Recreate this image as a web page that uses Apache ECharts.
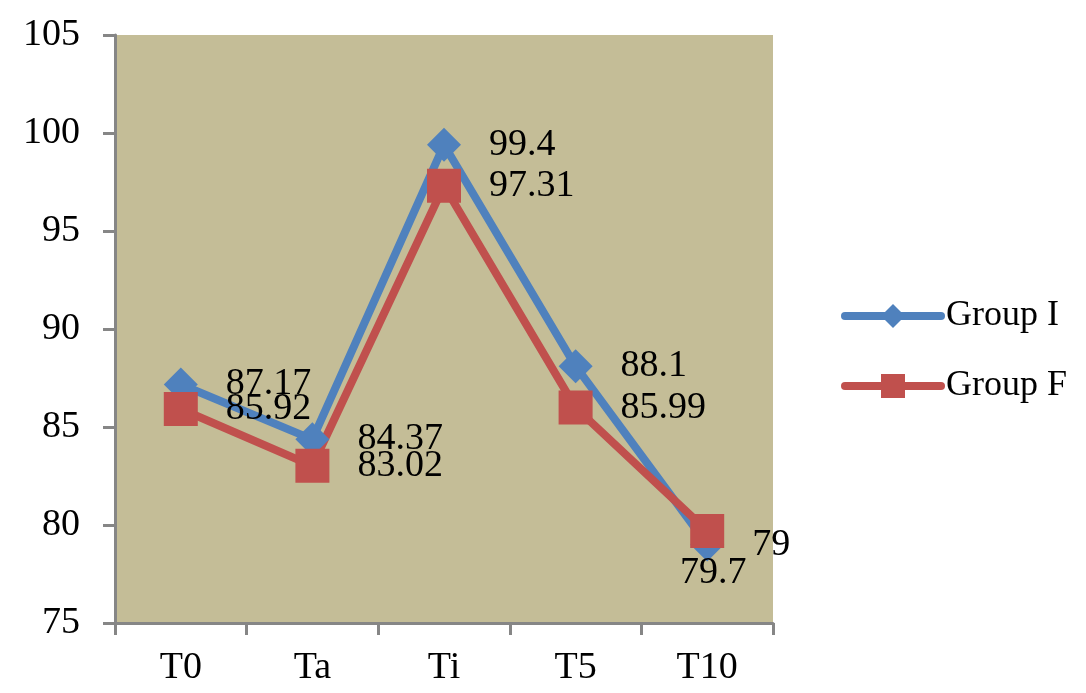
<!DOCTYPE html>
<html lang="en">
<head>
    <meta charset="UTF-8">
    <title>chart</title>
    <style>
        html, body { margin: 0; padding: 0; background: #fff; }
    </style>
</head>
<body>
<div id="container" style="width:1086px;height:693px"></div>
<script type="text/javascript" src="https://cdn.jsdelivr.net/npm/echarts@6/dist/echarts.min.js"></script>
<script type="text/javascript">
    var categories = ['T0', 'Ta', 'Ti', 'T5', 'T10'];
    var groupI = [87.17, 84.37, 99.4, 88.1, 79];
    var groupF = [85.92, 83.02, 97.31, 85.99, 79.7];
    var yTicks = [75, 80, 85, 90, 95, 100, 105];

    var fontFamily = '"Liberation Serif", "DejaVu Serif", serif';
    var fontSize = 38;
    var axisColor = '#868686';
    var plotColor = '#C4BD97';
    var blue = '#4F81BD';
    var red = '#C0504D';

    var myChart = echarts.init(document.getElementById('container'));

    // Group F label at T10 sits under its marker
    var fData = groupF.map(function (v, i) {
        if (i === categories.length - 1) {
            return {value: v, label: {position: 'bottom', distance: 6, offset: [6, 0]}};
        }
        return v;
    });

    var dataLabel = {
        show: true,
        position: 'right',
        distance: 28,
        color: '#000',
        fontSize: fontSize,
        fontFamily: fontFamily
    };

    myChart.setOption({
        animation: false,
        textStyle: {fontFamily: fontFamily},
        grid: {
            left: 115,
            top: 35,
            right: 313,
            bottom: 70,
            show: true,
            backgroundColor: plotColor,
            borderWidth: 0
        },
        legend: {
            orient: 'vertical',
            left: 836,
            top: 293,
            itemWidth: 96,
            itemHeight: 30,
            itemGap: 34,
            lineStyle: {width: 8, cap: 'round'},
            textStyle: {fontFamily: fontFamily, fontSize: 36, color: '#000', padding: [0, 0, 0, 0]},
            data: ['Group I', 'Group F']
        },
        xAxis: {
            type: 'category',
            data: categories,
            boundaryGap: true,
            axisLine: {lineStyle: {color: axisColor, width: 3}},
            axisTick: {show: true, length: 12, lineStyle: {color: axisColor, width: 3}},
            axisLabel: {color: '#000', fontSize: fontSize, fontFamily: fontFamily, margin: 26}
        },
        yAxis: {
            type: 'value',
            min: yTicks[0],
            max: yTicks[yTicks.length - 1],
            interval: 5,
            axisLine: {show: true, lineStyle: {color: axisColor, width: 3}},
            axisTick: {show: true, length: 12, lineStyle: {color: axisColor, width: 3}},
            axisLabel: {color: '#000', fontSize: fontSize, fontFamily: fontFamily, margin: 35},
            splitLine: {show: false}
        },
        series: [
            {
                name: 'Group I',
                type: 'line',
                data: groupI,
                symbol: 'diamond',
                symbolSize: 34,
                lineStyle: {color: blue, width: 8},
                itemStyle: {color: blue},
                label: dataLabel
            },
            {
                name: 'Group F',
                type: 'line',
                data: fData,
                symbol: 'rect',
                symbolSize: 34,
                lineStyle: {color: red, width: 8},
                itemStyle: {color: red},
                label: dataLabel
            }
        ]
    });
</script>
</body>
</html>
